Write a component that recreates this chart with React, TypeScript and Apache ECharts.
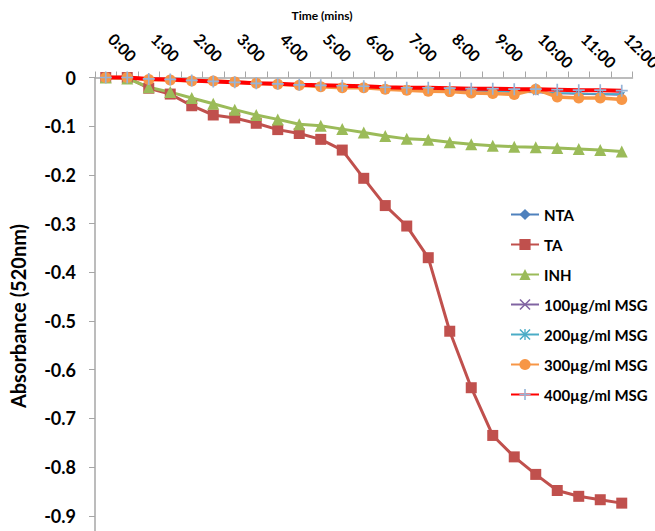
import React, { useEffect, useRef } from "react";
import * as echarts from "echarts";

const times = [
  "0:00", "0:30", "1:00", "1:30", "2:00", "2:30", "3:00", "3:30", "4:00",
  "4:30", "5:00", "5:30", "6:00", "6:30", "7:00", "7:30", "8:00", "8:30",
  "9:00", "9:30", "10:00", "10:30", "11:00", "11:30", "12:00",
];

const ntaValues = [
  0, 0, -0.003, -0.005, -0.006, -0.008, -0.01, -0.012, -0.014, -0.015, -0.017,
  -0.018, -0.019, -0.021, -0.022, -0.023, -0.025, -0.026, -0.027, -0.029,
  -0.03, -0.032, -0.033, -0.034, -0.034,
];
const taValues = [
  0, 0, -0.022, -0.034, -0.058, -0.077, -0.083, -0.094, -0.107, -0.115, -0.127,
  -0.149, -0.207, -0.263, -0.305, -0.37, -0.521, -0.637, -0.735, -0.779,
  -0.815, -0.848, -0.86, -0.867, -0.874,
];
const inhValues = [
  0, -0.002, -0.02, -0.03, -0.042, -0.054, -0.066, -0.077, -0.086, -0.096,
  -0.099, -0.106, -0.113, -0.12, -0.126, -0.128, -0.133, -0.137, -0.14,
  -0.142, -0.143, -0.145, -0.147, -0.149, -0.152,
];
const msg100Values = [
  0, 0, -0.003, -0.005, -0.007, -0.008, -0.01, -0.012, -0.014, -0.016, -0.017,
  -0.019, -0.02, -0.022, -0.023, -0.024, -0.026, -0.027, -0.028, -0.03,
  -0.031, -0.033, -0.034, -0.035, -0.036,
];
const msg200Values = [
  0, 0, -0.003, -0.004, -0.006, -0.008, -0.01, -0.011, -0.013, -0.015, -0.016,
  -0.018, -0.019, -0.021, -0.022, -0.024, -0.025, -0.026, -0.028, -0.029,
  -0.03, -0.032, -0.033, -0.034, -0.035,
];
const msg300Values = [
  0, 0, -0.004, -0.005, -0.007, -0.007, -0.009, -0.012, -0.014, -0.016, -0.019,
  -0.021, -0.021, -0.024, -0.026, -0.028, -0.029, -0.032, -0.033, -0.035,
  -0.024, -0.04, -0.042, -0.042, -0.045,
];
const msg400Values = [
  0, 0, -0.003, -0.004, -0.006, -0.008, -0.01, -0.012, -0.013, -0.015, -0.016,
  -0.017, -0.018, -0.02, -0.021, -0.021, -0.022, -0.023, -0.023, -0.024,
  -0.024, -0.025, -0.026, -0.026, -0.027,
];

const seriesNames = [
  "NTA",
  "TA",
  "INH",
  "100µg/ml MSG",
  "200µg/ml MSG",
  "300µg/ml MSG",
  "400µg/ml MSG",
];

const FONT = "Lato, 'Open Sans', sans-serif";

const plusSymbol = "path://M4.3,0H5.7V10H4.3Z M0,4.3H10V5.7H0Z";
const xSymbol =
  "path://M1,0L5,4L9,0L10,1L6,5L10,9L9,10L5,6L1,10L0,9L4,5L0,1Z";
const starSymbol =
  "path://M1,0L5,4L9,0L10,1L6,5L10,9L9,10L5,6L1,10L0,9L4,5L0,1Z M4.4,0H5.6V10H4.4Z";

export default function App() {
  const ref = useRef<HTMLDivElement>(null);

  useEffect(() => {
    if (!ref.current) return;
    const chart = echarts.init(ref.current, null, { renderer: "svg" });

    const mk = (
      name: string,
      data: number[],
      lineColor: string,
      width: number,
      symbol: string,
      size: number,
      markerColor?: string
    ) => ({
      name,
      type: "line",
      data,
      clip: false,
      symbol,
      symbolSize: size,
      showAllSymbol: true,
      lineStyle: { color: lineColor, width },
      itemStyle: { color: markerColor || lineColor },
      emphasis: { disabled: true },
    });

    chart.setOption({
      animation: false,
      backgroundColor: "#ffffff",
      grid: {
        left: 95,
        top: 77.5,
        width: 537.5,
        height: 487,
        containLabel: false,
        outerBoundsMode: "none",
      },
      legend: {
        orient: "vertical",
        left: 505,
        top: 202,
        itemWidth: 28,
        itemHeight: 14,
        itemGap: 15,
        data: seriesNames,
        textStyle: {
          fontFamily: FONT,
          fontWeight: "bold",
          fontSize: 15,
          color: "#000",
        },
      },
      xAxis: {
        type: "category",
        position: "top",
        data: times,
        boundaryGap: true,
        axisLine: { show: true, onZero: false, lineStyle: { color: "#a6a6a6", width: 1.5 } },
        axisTick: {
          show: true,
          interval: 0,
          length: 6,
          lineStyle: { color: "#a6a6a6" },
        },
        axisLabel: {
          interval: 1,
          rotate: 45,
          margin: 36,
          align: "left",
          verticalAlign: "bottom",
          fontFamily: FONT,
          fontWeight: "bold",
          fontSize: 16,
          color: "#000",
        },
        splitLine: { show: false },
      },
      yAxis: {
        type: "value",
        min: -1,
        max: 0,
        interval: 0.1,
        axisLine: { show: true, lineStyle: { color: "#a6a6a6", width: 1.5 } },
        axisTick: { show: true, length: 6, lineStyle: { color: "#a6a6a6" } },
        splitLine: { show: false },
        axisLabel: {
          margin: 19,
          fontFamily: FONT,
          fontWeight: "bold",
          fontSize: 18,
          color: "#000",
          formatter: (v: number) =>
            Math.abs(v) < 1e-9 ? "0" : v < -0.95 ? "" : v.toFixed(1),
        },
      },
      graphic: [
        {
          type: "text",
          x: 322,
          y: 15,
          style: {
            text: "Time (mins)",
            fontFamily: FONT,
            fontWeight: "bold",
            fontSize: 12,
            fill: "#000",
            align: "center",
            verticalAlign: "middle",
          },
        },
        {
          type: "text",
          x: 18,
          y: 316,
          rotation: Math.PI / 2,
          style: {
            text: "Absorbance (520nm)",
            fontFamily: FONT,
            fontWeight: "bold",
            fontSize: 20,
            fill: "#000",
            align: "center",
            verticalAlign: "middle",
          },
        },
      ],
      series: [
        mk(seriesNames[0], ntaValues, "#4F81BD", 1.5, "diamond", 5),
        mk(seriesNames[1], taValues, "#C0504D", 3, "rect", 11),
        mk(seriesNames[2], inhValues, "#9BBB59", 3, "triangle", 12),
        mk(seriesNames[3], msg100Values, "#8064A2", 1.5, xSymbol, 6),
        mk(seriesNames[4], msg200Values, "#4BACC6", 1.5, starSymbol, 6),
        mk(seriesNames[5], msg300Values, "#F79646", 3.5, "circle", 11),
        mk(seriesNames[6], msg400Values, "#FF0000", 4, plusSymbol, 12, "#95B3D7"),
      ],
    });

    return () => chart.dispose();
  }, []);

  return (
    <div
      ref={ref}
      style={{ position: "fixed", left: 0, top: 0, width: 655, height: 531 }}
    />
  );
}
